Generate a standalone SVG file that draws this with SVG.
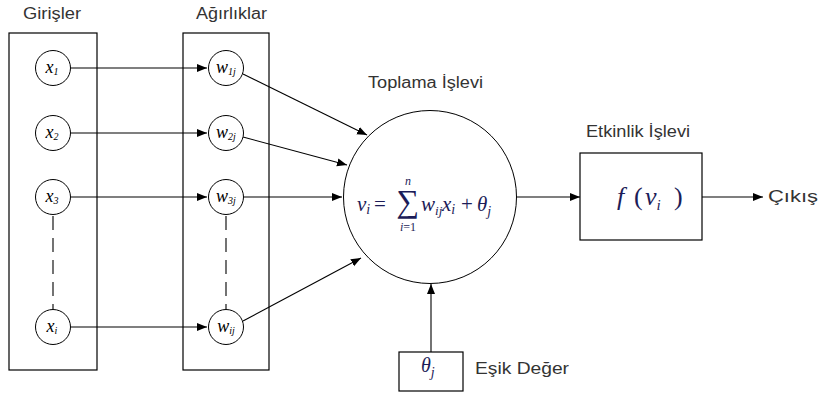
<svg xmlns="http://www.w3.org/2000/svg" width="821" height="394" viewBox="0 0 821 394">
<defs>
<marker id="ah" viewBox="0 0 10 10" refX="10" refY="5" markerWidth="10" markerHeight="10" markerUnits="userSpaceOnUse" orient="auto">
<path d="M0,1 L10,5 L0,9 z" fill="#000"/>
</marker>
</defs>
<style>
.box{fill:none;stroke:#000;stroke-width:1.2}
.nd{fill:#fff;stroke:#000;stroke-width:1}
.ar{fill:none;stroke:#000;stroke-width:1.1;marker-end:url(#ah)}
.dash{fill:none;stroke:#000;stroke-width:1.1;stroke-dasharray:14,8}
.lbl{font-family:"Liberation Sans",Arial,sans-serif;font-size:16px;fill:#333}
.m{font-family:"Liberation Serif","Times New Roman",serif;font-style:italic;fill:#000;font-size:18px}
.s{font-size:10px}
.eq{font-family:"Liberation Serif","Times New Roman",serif;fill:#1c1c58}
</style>
<rect width="821" height="394" fill="#fff"/>
<g id="girisler">
<rect class="box" x="9" y="33" width="88" height="337"/>
<text class="lbl" x="23" y="19" textLength="58" lengthAdjust="spacingAndGlyphs">Girişler</text>
</g>
<g id="agirliklar">
<rect class="box" x="183" y="33" width="86" height="337"/>
<text class="lbl" x="196" y="19" textLength="71" lengthAdjust="spacingAndGlyphs">Ağırlıklar</text>
</g>
<g id="connectors">
<line class="ar" x1="71" y1="68" x2="207" y2="68"/>
<line class="ar" x1="71" y1="133" x2="207" y2="133"/>
<line class="ar" x1="71" y1="197" x2="207" y2="197"/>
<line class="ar" x1="71" y1="327" x2="207" y2="327"/>
<line class="dash" x1="53" y1="216" x2="53" y2="309"/>
<line class="dash" x1="226" y1="216" x2="226" y2="309"/>
<line class="ar" x1="243" y1="74" x2="367" y2="135"/>
<line class="ar" x1="243" y1="137" x2="347" y2="165"/>
<line class="ar" x1="244" y1="197" x2="342" y2="197"/>
<line class="ar" x1="243" y1="321" x2="361" y2="258"/>
<line class="ar" x1="516" y1="197" x2="580" y2="197"/>
<line class="ar" x1="702" y1="197" x2="763" y2="197"/>
<line class="ar" x1="431" y1="352" x2="431" y2="284"/>
</g>
<g id="x1"><circle class="nd" cx="53" cy="68" r="17.5"/><text class="m" x="52" y="73" text-anchor="middle">x<tspan class="s" dy="2">1</tspan></text></g>
<g id="x2"><circle class="nd" cx="53" cy="133" r="17.5"/><text class="m" x="52" y="138" text-anchor="middle">x<tspan class="s" dy="2">2</tspan></text></g>
<g id="x3"><circle class="nd" cx="53" cy="197" r="17.5"/><text class="m" x="52" y="202" text-anchor="middle">x<tspan class="s" dy="2">3</tspan></text></g>
<g id="xi"><circle class="nd" cx="53" cy="327" r="17.5"/><text class="m" x="52" y="332" text-anchor="middle">x<tspan class="s" dy="2">i</tspan></text></g>
<g id="w1j"><circle class="nd" cx="226" cy="68" r="17.5"/><text class="m" x="226" y="73" text-anchor="middle">w<tspan class="s" dy="2">1j</tspan></text></g>
<g id="w2j"><circle class="nd" cx="226" cy="133" r="17.5"/><text class="m" x="226" y="138" text-anchor="middle">w<tspan class="s" dy="2">2j</tspan></text></g>
<g id="w3j"><circle class="nd" cx="226" cy="197" r="17.5"/><text class="m" x="226" y="202" text-anchor="middle">w<tspan class="s" dy="2">3j</tspan></text></g>
<g id="wij"><circle class="nd" cx="226" cy="327" r="17.5"/><text class="m" x="226" y="332" text-anchor="middle">w<tspan class="s" dy="2">ij</tspan></text></g>
<g id="toplama">
<circle class="nd" cx="430" cy="197" r="86.5"/>
<text class="lbl" x="368" y="88" textLength="115" lengthAdjust="spacingAndGlyphs">Toplama İşlevi</text>
<text class="eq" font-size="21" y="211"><tspan x="357" font-style="italic">v</tspan><tspan font-style="italic" font-size="14" dy="3">i</tspan><tspan x="374" dy="-3">=</tspan></text>
<text class="eq" x="408" y="212" font-size="32" text-anchor="middle">∑</text>
<text class="eq" x="408" y="185" font-size="12" font-style="italic" text-anchor="middle">n</text>
<text class="eq" x="408" y="231" font-size="12" text-anchor="middle"><tspan font-style="italic">i</tspan>=1</text>
<text class="eq" font-size="21" y="211"><tspan x="421" font-style="italic">w</tspan><tspan font-style="italic" font-size="13" dy="4">ij</tspan><tspan x="442" font-style="italic" dy="-4">x</tspan><tspan font-style="italic" font-size="14" dy="3">i</tspan><tspan x="461" dy="-3">+</tspan><tspan x="477" font-style="italic">θ</tspan><tspan font-style="italic" font-size="14" dy="5">j</tspan></text>
</g>
<g id="etkinlik">
<rect class="box" x="580" y="153" width="122" height="87"/>
<text class="lbl" x="586" y="137" textLength="104" lengthAdjust="spacingAndGlyphs">Etkinlik İşlevi</text>
<text class="eq" font-size="26" y="205"><tspan x="617" font-style="italic">f</tspan><tspan x="634">(</tspan><tspan x="645" font-style="italic">v</tspan><tspan font-style="italic" font-size="15" dy="5">i</tspan><tspan x="674" dy="-5">)</tspan></text>
</g>
<g id="cikis"><text class="lbl" x="768" y="202" textLength="50" lengthAdjust="spacingAndGlyphs">Çıkış</text></g>
<g id="esik">
<rect class="box" x="399" y="352" width="64" height="39"/>
<text class="eq" font-size="20" y="372"><tspan x="421" font-style="italic">θ</tspan><tspan font-style="italic" font-size="14" dy="5">j</tspan></text>
<text class="lbl" x="475" y="374" textLength="94" lengthAdjust="spacingAndGlyphs">Eşik Değer</text>
</g>
</svg>
